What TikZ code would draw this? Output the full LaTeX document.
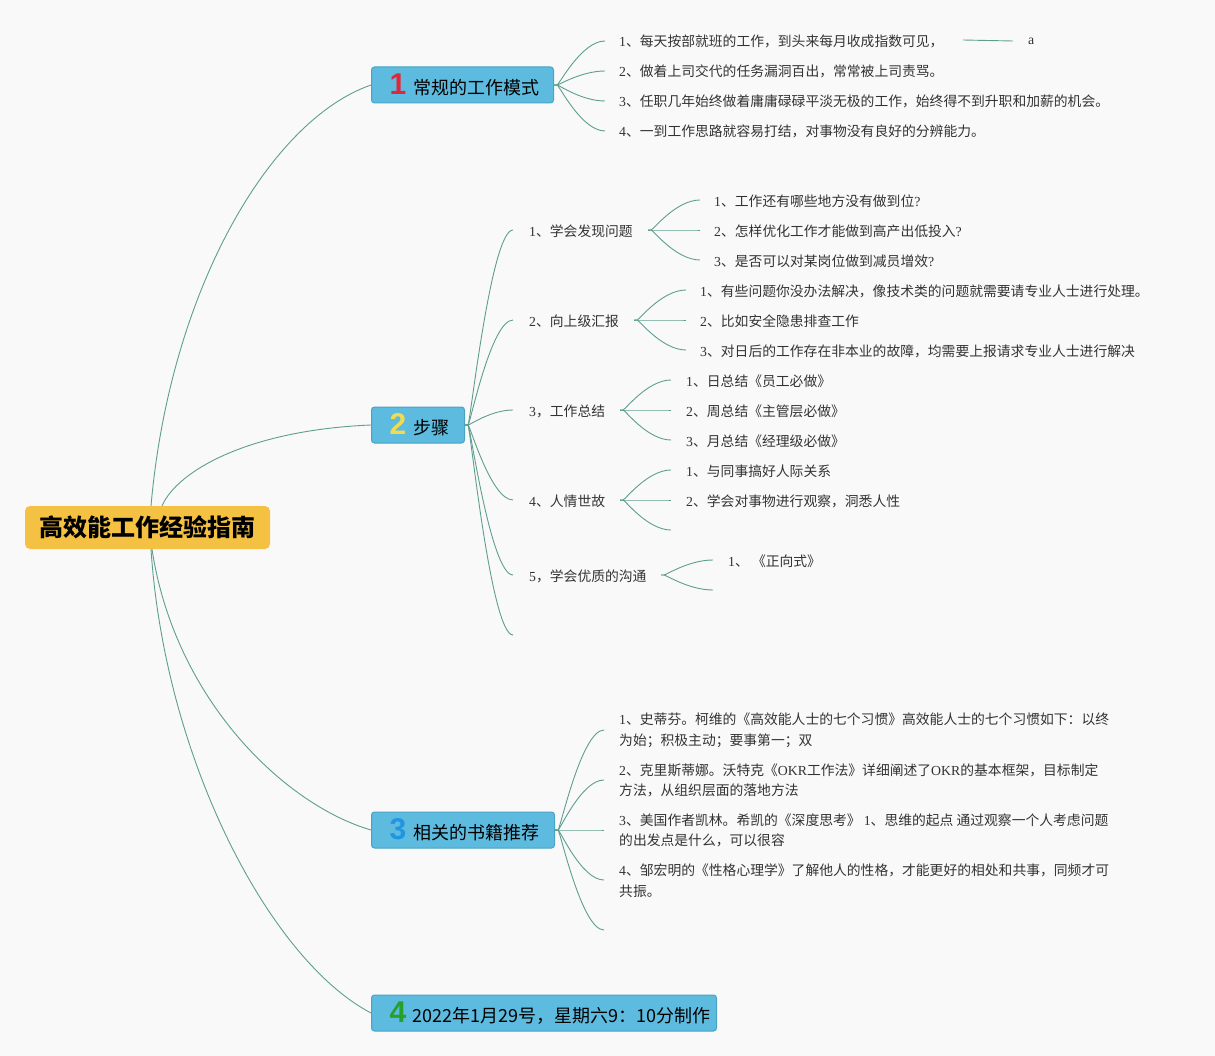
\documentclass[tikz,border=0pt]{standalone}
\usepackage{fontspec}
\usetikzlibrary{calc}
\setmainfont{Noto Sans CJK SC}
\newfontfamily\lser{Liberation Serif}
\newfontfamily\numf{Liberation Sans}
\newcommand\ls[1]{{\lser #1}}
\newcommand\bnum[2]{{\fontsize{30}{30}\selectfont\numf\bfseries\color{#1}#2}}
\definecolor{bgC}{HTML}{F9F9F9}
\definecolor{lineC}{HTML}{5E9E8E}
\definecolor{txtC}{HTML}{333333}
\definecolor{boxC}{HTML}{5DBBDF}
\definecolor{boxD}{HTML}{4BA3C3}
\definecolor{rootC}{HTML}{F4C142}
\definecolor{nRed}{HTML}{E0263A}
\definecolor{nYel}{HTML}{F2DC4E}
\definecolor{nBlu}{HTML}{2196E0}
\definecolor{nGrn}{HTML}{25A02A}
\begin{document}
\begin{tikzpicture}[x=1pt,y=-1pt,
  conn/.style={draw=lineC, line width=0.9pt},
  fork/.style={conn, to path={let \p1=(\tikztostart), \p2=(\tikztotarget) in
      -- (\x1+3pt,\y1) .. controls (\x1+5pt,\y1) and ({(\x1+\x2)/2+2pt},\y2) .. (\tikztotarget)}},
  item/.style={inner sep=0pt, anchor=west, text=txtC, font=\fontsize{13.8}{20.5}\selectfont, align=left},
  branch/.style={draw=boxD, fill=boxC, rounded corners=3pt, line width=1pt, minimum height=36pt,
     inner xsep=0pt, inner ysep=0pt, anchor=west, align=left, font=\fontsize{18}{20}\selectfont, text=black},
  rootbox/.style={fill=rootC, rounded corners=5pt, minimum width=245pt, minimum height=43pt,
     inner sep=0pt, font=\fontsize{24}{28}\selectfont\bfseries, text=black}]
\useasboundingbox (0,0) rectangle (1215,1056);
\fill[bgC] (0,0) rectangle (1215,1056);

% root and branches
\node[rootbox] (root) at (147.5,527.5) {高效能工作经验指南};
\node[branch, text width=182pt] (b1) at (371,85) {\hspace*{18pt}\bnum{nRed}{1}\hspace{7pt}常规的工作模式};
\node[branch, text width=93pt] (b2) at (371,425) {\hspace*{18pt}\bnum{nYel}{2}\hspace{7pt}步骤};
\node[branch, text width=183pt] (b3) at (371,830) {\hspace*{18pt}\bnum{nBlu}{3}\hspace{7pt}相关的书籍推荐};
\node[branch, text width=345pt] (b4) at (371,1013) {\hspace*{18pt}\bnum{nGrn}{4}\hspace{6pt}2022年1月29号，星期六9：10分制作};

\draw[conn] ([xshift=3.5pt]root.north) .. controls (170,290) and (270,120) .. (b1.west);
\draw[conn] ([xshift=14.5pt]root.north) .. controls (178,470) and (250,430) .. (b2.west);
\draw[conn] ([xshift=4.5pt]root.south) .. controls (175,700) and (285,805) .. (b3.west);
\draw[conn] ([xshift=3.5pt]root.south) .. controls (165,760) and (270,960) .. (b4.west);

% branch 1 items
\foreach \k/\y in {1/41,2/71,3/101,4/131}{\coordinate (e1\k) at (605,\y);}
\node[item] (i11) at (619,41) {\ls{1}、每天按部就班的工作，到头来每月收成指数可见，};
\node[item] (i12) at (619,71) {\ls{2}、做着上司交代的任务漏洞百出，常常被上司责骂。};
\node[item] (i13) at (619,101) {\ls{3}、任职几年始终做着庸庸碌碌平淡无极的工作，始终得不到升职和加薪的机会。};
\node[item] (i14) at (619,131) {\ls{4}、一到工作思路就容易打结，对事物没有良好的分辨能力。};
\foreach \k in {1,...,4}{\draw[fork] (b1.east) to (e1\k);}
\coordinate (a0) at (963,40);
\node[item, font=\fontsize{13.8}{16}\lser] (aa) at (1028,41) {a};
\draw[conn] (a0) -- ([xshift=-15pt]aa.west);

% branch 2 items
\foreach \k/\y in {1/230,2/320,3/410,4/500,5/575,6/635}{\coordinate (e2\k) at (513,\y);}
\foreach \k in {1,...,6}{\draw[fork] (b2.east) to (e2\k);}
\node[item] (i21) at (529,231) {\ls{1}、学会发现问题};
\node[item] (i22) at (529,321) {\ls{2}、向上级汇报};
\node[item] (i23) at (529,411) {\ls{3}，工作总结};
\node[item] (i24) at (529,501) {\ls{4}、人情世故};
\node[item] (i25) at (529,576) {\ls{5}，学会优质的沟通};

% sub 1
\coordinate (f1) at (648,230);
\foreach \k/\y in {1/200,2/230,3/260}{\coordinate (g1\k) at (700,\y); \draw[fork] (f1) to (g1\k);}
\node[item] (j11) at (714,201) {\ls{1}、工作还有哪些地方没有做到位\ls{?}};
\node[item] (j12) at (714,231) {\ls{2}、怎样优化工作才能做到高产出低投入\ls{?}};
\node[item] (j13) at (714,261) {\ls{3}、是否可以对某岗位做到减员增效\ls{?}};
% sub 2
\coordinate (f2) at (634,320);
\foreach \k/\y in {1/290,2/320,3/350}{\coordinate (g2\k) at (686,\y); \draw[fork] (f2) to (g2\k);}
\node[item] (j21) at (700,291) {\ls{1}、有些问题你没办法解决，像技术类的问题就需要请专业人士进行处理。};
\node[item] (j22) at (700,321) {\ls{2}、比如安全隐患排查工作};
\node[item] (j23) at (700,351) {\ls{3}、对日后的工作存在非本业的故障，均需要上报请求专业人士进行解决};
% sub 3
\coordinate (f3) at (620,410);
\foreach \k/\y in {1/380,2/410,3/440}{\coordinate (g3\k) at (671,\y); \draw[fork] (f3) to (g3\k);}
\node[item] (j31) at (686,381) {\ls{1}、日总结《员工必做》};
\node[item] (j32) at (686,411) {\ls{2}、周总结《主管层必做》};
\node[item] (j33) at (686,441) {\ls{3}、月总结《经理级必做》};
% sub 4
\coordinate (f4) at (620,500);
\foreach \k/\y in {1/470,2/500,3/530}{\coordinate (g4\k) at (671,\y); \draw[fork] (f4) to (g4\k);}
\node[item] (j41) at (686,471) {\ls{1}、与同事搞好人际关系};
\node[item] (j42) at (686,501) {\ls{2}、学会对事物进行观察，洞悉人性};
% sub 5
\coordinate (f5) at (661,575);
\foreach \k/\y in {1/560,2/590}{\coordinate (g5\k) at (713,\y); \draw[fork] (f5) to (g5\k);}
\node[item] (j51) at (728,561) {\ls{1}、 《正向式》};

% branch 3 items
\foreach \k/\y in {1/730,2/780,3/830,4/880,5/930}{\coordinate (e3\k) at (604,\y); \draw[fork] (b3.east) to (e3\k);}
\node[item] (i31) at (619,730.5) {\ls{1}、史蒂芬。柯维的《高效能人士的七个习惯》高效能人士的七个习惯如下：以终\\为始；积极主动；要事第一；双};
\node[item] (i32) at (619,780.5) {\ls{2}、克里斯蒂娜。沃特克《\ls{OKR}工作法》详细阐述了\ls{OKR}的基本框架，目标制定\\方法，从组织层面的落地方法};
\node[item] (i33) at (619,830.5) {\ls{3}、美国作者凯林。希凯的《深度思考》 \ls{1}、思维的起点 通过观察一个人考虑问题\\的出发点是什么，可以很容};
\node[item] (i34) at (619,880.5) {\ls{4}、邹宏明的《性格心理学》了解他人的性格，才能更好的相处和共事，同频才可\\共振。};
\end{tikzpicture}
\end{document}
